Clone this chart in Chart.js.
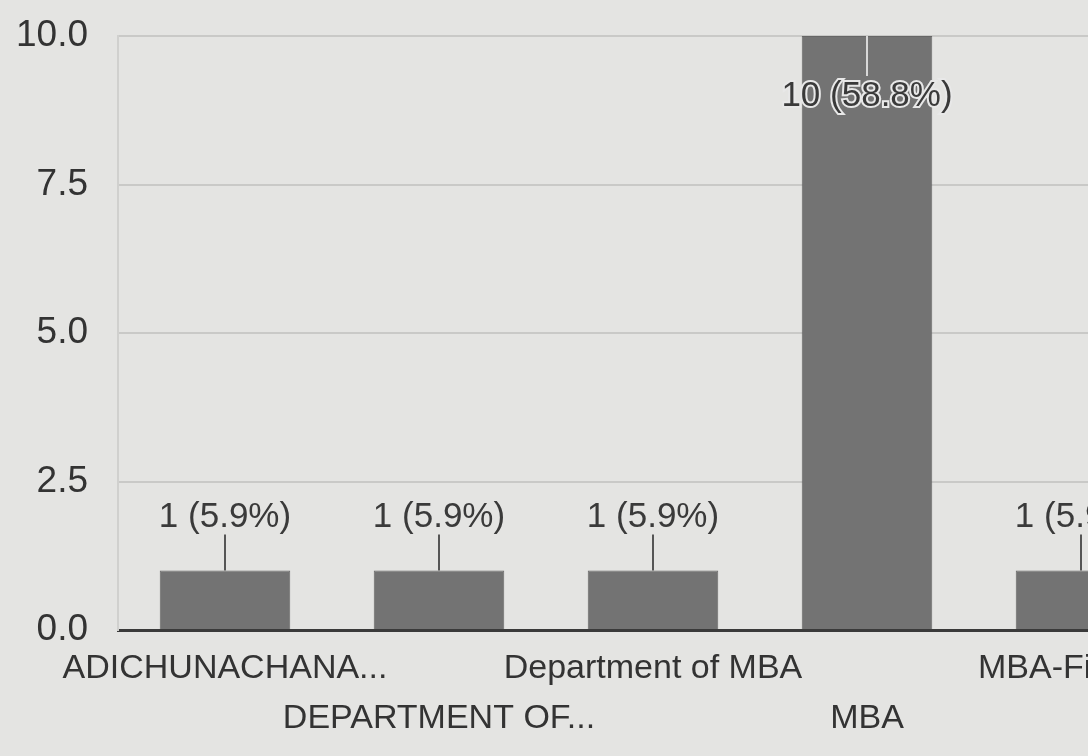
<!DOCTYPE html>
<html>
<head>
<meta charset="utf-8">
<script src="https://cdn.jsdelivr.net/npm/chart.js@4.4.1/dist/chart.umd.min.js"></script>
<style>
  html, body { margin: 0; padding: 0; background: #e4e4e2; overflow: hidden; }
  #wrap { width: 1200px; height: 756px; position: relative; }
</style>
</head>
<body>
<div id="wrap"><canvas id="c"></canvas></div>
<script>
const categories = [
  ['ADICHUNACHANA...'],
  ['', 'DEPARTMENT OF...'],
  ['Department of MBA'],
  ['', 'MBA'],
  ['MBA-Finance']
];
const values = [1, 1, 1, 10, 1];
const percents = [5.9, 5.9, 5.9, 58.8, 5.9];
const yTicks = [0, 2.5, 5, 7.5, 10];

const FONT = "'Liberation Sans', Arial, sans-serif";

const barLabels = {
  id: 'barLabels',
  afterDatasetsDraw(chart) {
    const ctx = chart.ctx;
    const meta = chart.getDatasetMeta(0);
    const top = chart.chartArea.top;
    ctx.save();
    ctx.font = '35px ' + FONT;
    ctx.textAlign = 'center';
    ctx.textBaseline = 'middle';
    meta.data.forEach((bar, i) => {
      const txt = values[i] + ' (' + percents[i].toFixed(1) + '%)';
      const x = bar.x, y = bar.y;
      if (y - 90 > top) {
        ctx.strokeStyle = '#555';
        ctx.lineWidth = 2;
        ctx.beginPath();
        ctx.moveTo(x, y);
        ctx.lineTo(x, y - 36);
        ctx.stroke();
        ctx.fillStyle = '#3a3a3a';
        ctx.fillText(txt, x, y - 53);
      } else {
        ctx.strokeStyle = '#d8d8d8';
        ctx.lineWidth = 2;
        ctx.beginPath();
        ctx.moveTo(x, y);
        ctx.lineTo(x, y + 40);
        ctx.stroke();
        ctx.lineWidth = 4;
        ctx.strokeStyle = '#e8e8e8';
        ctx.strokeText(txt, x, y + 60);
        ctx.fillStyle = '#3a3a3a';
        ctx.fillText(txt, x, y + 60);
      }
    });
    ctx.restore();
  }
};

new Chart(document.getElementById('c'), {
  type: 'bar',
  data: {
    labels: categories,
    datasets: [{
      data: values,
      backgroundColor: '#737373',
      borderColor: '#666',
      borderWidth: 1,
      barPercentage: 0.61,
      categoryPercentage: 1.0
    }]
  },
  options: {
    responsive: true,
    maintainAspectRatio: false,
    animation: false,
    layout: { padding: { left: 0, top: 36, right: 12, bottom: 0 } },
    plugins: { legend: { display: false }, tooltip: { enabled: false } },
    scales: {
      x: {
        afterFit(scale) { scale.height = 126; scale.paddingLeft = 0; scale.paddingRight = 0; },
        grid: { display: false, drawTicks: false },
        border: { display: true, color: '#3a3a3a', width: 3 },
        ticks: {
          autoSkip: false, maxRotation: 0, minRotation: 0,
          padding: 14,
          color: '#333',
          font: { family: FONT, size: 34, lineHeight: '50px' }
        }
      },
      y: {
        min: 0, max: 10,
        afterFit(scale) { scale.width = 118; scale.paddingTop = 0; scale.paddingBottom = 0; },
        afterBuildTicks(scale) { scale.ticks = yTicks.map(v => ({ value: v })); },
        grid: { color: '#c9c9c7', lineWidth: 2, drawTicks: false },
        border: { display: true, color: '#d0d0ce', width: 2 },
        ticks: {
          padding: 30,
          color: '#333',
          font: { family: FONT, size: 37 },
          callback: v => Number(v).toFixed(1)
        }
      }
    }
  },
  plugins: [barLabels]
});
</script>
</body>
</html>
